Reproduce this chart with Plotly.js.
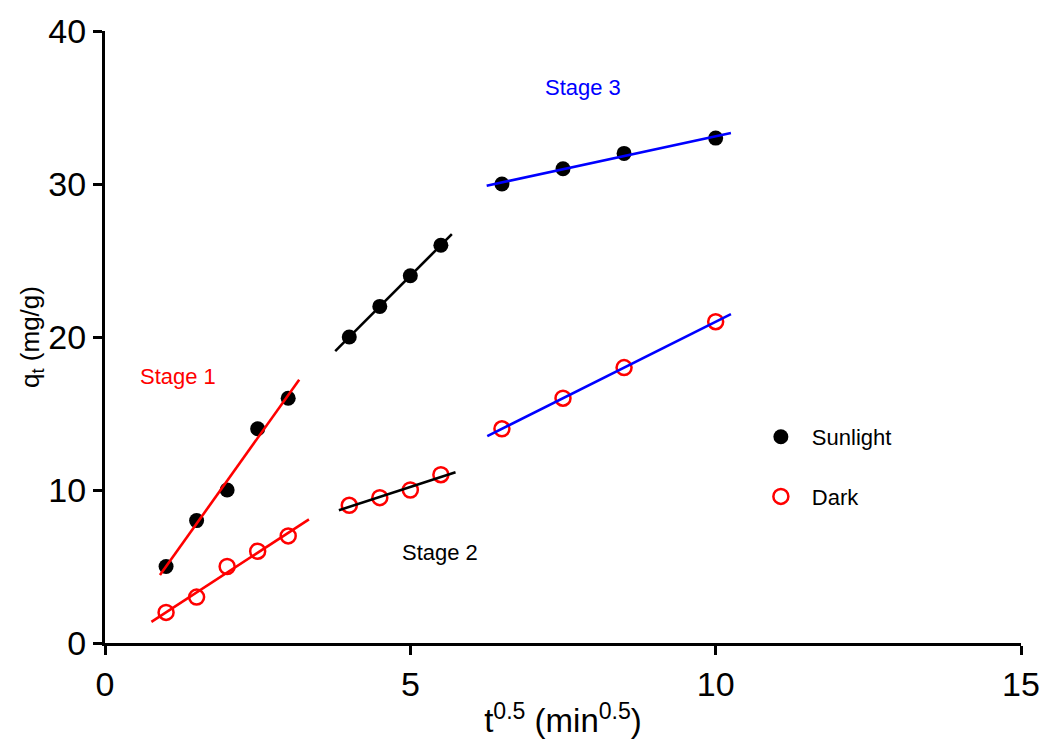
<!DOCTYPE html>
<html>
<head>
<meta charset="utf-8">
<script src="https://cdn.plot.ly/plotly-3.0.1.min.js"></script>
<style>
html,body{margin:0;padding:0;background:#fff;}
#chart{width:1046px;height:747px;}
</style>
</head>
<body>
<div id="chart"></div>
<script>
// ---- data ----
const xStage1 = [1, 1.5, 2, 2.5, 3];
const xStage2 = [4, 4.5, 5, 5.5];
const xStage3 = [6.5, 7.5, 8.5, 10];

const sunlightStage1 = [5, 8, 10, 14, 16];
const sunlightStage2 = [20, 22, 24, 26];
const sunlightStage3 = [30, 31, 32, 33];

const darkStage1 = [2, 3, 5, 6, 7];
const darkStage2 = [9, 9.5, 10, 11];
const darkStage3 = [14, 16, 18, 21];

// x-range over which each fitted line is drawn (stage 1, 2, 3)
const sunFitStart = [0.9, 3.77, 6.25];
const sunFitEnd = [3.18, 5.68, 10.25];
const darkFitStart = [0.76, 3.83, 6.26];
const darkFitEnd = [3.34, 5.74, 10.25];

const stageColors = ['#ff0000', '#000000', '#0000ff'];
const stageLabels = ['Stage 1', 'Stage 2', 'Stage 3'];
const stageLabelX = [1.2, 5.49, 7.83];
const stageLabelY = [17.4, 5.9, 36.3];

const xTicks = [0, 5, 10, 15];
const yTicks = [0, 10, 20, 30, 40];

// ---- helpers ----
function linFit(xs, ys) {
  const n = xs.length;
  const mx = xs.reduce((a, b) => a + b, 0) / n;
  const my = ys.reduce((a, b) => a + b, 0) / n;
  let sxy = 0, sxx = 0;
  for (let i = 0; i < n; i++) { sxy += (xs[i] - mx) * (ys[i] - my); sxx += (xs[i] - mx) ** 2; }
  const slope = sxy / sxx;
  return { slope, intercept: my - slope * mx };
}

const xs = [xStage1, xStage2, xStage3];
const sunYs = [sunlightStage1, sunlightStage2, sunlightStage3];
const darkYs = [darkStage1, darkStage2, darkStage3];

const traces = [];

traces.push({
  x: [].concat(...xs), y: [].concat(...sunYs),
  type: 'scatter', mode: 'markers', name: 'Sunlight',
  legendgroup: 'sun',
  marker: { color: '#000', size: 15, symbol: 'circle' },
  cliponaxis: false
});
traces.push({
  x: [].concat(...xs), y: [].concat(...darkYs),
  type: 'scatter', mode: 'markers', name: 'Dark',
  legendgroup: 'dark',
  marker: { color: '#ff0000', size: 15, symbol: 'circle-open', line: { color: '#ff0000', width: 2.5 } },
  cliponaxis: false
});

for (let s = 0; s < 3; s++) {
  const fs = linFit(xs[s], sunYs[s]);
  traces.push({
    x: [sunFitStart[s], sunFitEnd[s]],
    y: [fs.intercept + fs.slope * sunFitStart[s], fs.intercept + fs.slope * sunFitEnd[s]],
    type: 'scatter', mode: 'lines', showlegend: false, hoverinfo: 'skip',
    line: { color: stageColors[s], width: 2.6 }, cliponaxis: false
  });
  const fd = linFit(xs[s], darkYs[s]);
  traces.push({
    x: [darkFitStart[s], darkFitEnd[s]],
    y: [fd.intercept + fd.slope * darkFitStart[s], fd.intercept + fd.slope * darkFitEnd[s]],
    type: 'scatter', mode: 'lines', showlegend: false, hoverinfo: 'skip',
    line: { color: stageColors[s], width: 2.6 }, cliponaxis: false
  });
}

const annotations = stageLabels.map((t, i) => ({
  x: stageLabelX[i], y: stageLabelY[i], xref: 'x', yref: 'y',
  text: t, showarrow: false,
  font: { family: 'Liberation Sans, Arial, sans-serif', size: 22, color: stageColors[i] }
}));

const layout = {
  width: 1046, height: 747,
  margin: { l: 105, r: 25, t: 31, b: 104 },
  paper_bgcolor: '#fff', plot_bgcolor: '#fff',
  font: { family: 'Liberation Sans, Arial, sans-serif', color: '#000' },
  showlegend: true,
  legend: {
    x: 0.704, y: 0.2876, xanchor: 'left', yanchor: 'middle',
    font: { size: 22, color: '#000' },
    tracegroupgap: 28, itemwidth: 52, bgcolor: 'rgba(0,0,0,0)'
  },
  xaxis: {
    range: [0, 15], tickvals: xTicks, ticktext: xTicks.map(String),
    showgrid: false, zeroline: false, showline: true,
    linecolor: '#000', linewidth: 3, ticks: 'outside', ticklen: 9, tickwidth: 3, tickcolor: '#000',
    tickfont: { size: 34, color: '#000' },
    title: { text: 't<sup>0.5</sup> (min<sup>0.5</sup>)', font: { size: 33, color: '#000' }, standoff: 8 }
  },
  yaxis: {
    range: [0, 40], tickvals: yTicks, ticktext: yTicks.map(String),
    showgrid: false, zeroline: false, showline: true,
    linecolor: '#000', linewidth: 3, ticks: 'outside', ticklen: 9, tickwidth: 3, tickcolor: '#000',
    tickfont: { size: 34, color: '#000' },
    title: { text: 'q<sub>t</sub> (mg/g)', font: { size: 26, color: '#000' }, standoff: 0 }
  },
  annotations: annotations
};

Plotly.newPlot('chart', traces, layout, { displayModeBar: false, staticPlot: true });
</script>
</body>
</html>
